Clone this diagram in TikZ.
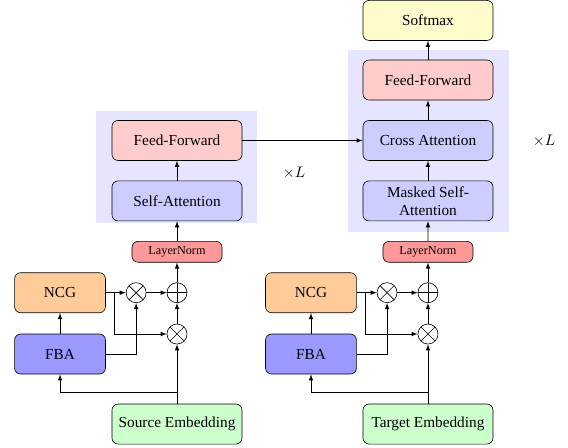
\documentclass[tikz,border=0pt]{standalone}
\usepackage{amsmath, amssymb}
\usepackage{fontspec}
\setmainfont{Liberation Serif}
\usepackage{tikz}

\begin{document}
\begin{tikzpicture}[>=latex,
    box/.style={draw, rounded corners=4pt, minimum width=2.99cm, minimum height=0.92cm, inner sep=1pt, align=center},
    smallbox/.style={box, minimum width=2.09cm},
    normbox/.style={box, minimum width=2.07cm, minimum height=0.48cm, font=\footnotesize},
    op/.style={circle, draw, minimum size=0.46cm, inner sep=0pt},
    mulop/.style={op, path picture={\draw (path picture bounding box.north west) -- (path picture bounding box.south east)
        (path picture bounding box.north east) -- (path picture bounding box.south west);}},
    addop/.style={op, path picture={\draw (path picture bounding box.north) -- (path picture bounding box.south)
        (path picture bounding box.west) -- (path picture bounding box.east);}},
    blockbg/.style={fill=blue!10}]
    \useasboundingbox (0, 0) rectangle (13.06, 10.30);

    % Gated input path, same for encoder and decoder
    \foreach \k/\dx/\txt in {enc/0/Source Embedding, dec/5.77/Target Embedding} {
        \begin{scope}[xshift=\dx cm]
            \node[box, fill=green!20] (\k-emb) at (4.07, 0.55) {\txt};
            \node[smallbox, fill=blue!40] (\k-fba) at (1.38, 2.16) {FBA};
            \node[smallbox, fill=orange!40] (\k-ncg) at (1.38, 3.57) {NCG};
            \node[mulop] (\k-mulA) at (3.13, 3.57) {};
            \node[addop] (\k-add) at (4.07, 3.57) {};
            \node[mulop] (\k-mulB) at (4.07, 2.62) {};
            \node[normbox, fill=red!40] (\k-ln) at (4.07, 4.51) {LayerNorm};
            \coordinate (\k-split) at (4.07, 1.27);
            \coordinate (\k-tap) at (2.62, 3.57);

            \draw[->] (\k-emb) -- (\k-mulB);
            \draw[->] (\k-split) -| (\k-fba);
            \draw[->] (\k-fba) -- (\k-ncg);
            \draw[->] (\k-ncg) -- (\k-mulA);
            \draw[->] (\k-fba) -| (\k-mulA);
            \draw[->] (\k-tap) |- (\k-mulB);
            \draw[->] (\k-mulA) -- (\k-add);
            \draw[->] (\k-mulB) -- (\k-add);
            \draw[->] (\k-add) -- (\k-ln);
        \end{scope}
    }

    % Encoder block
    \fill[blockbg] (2.21, 5.17) rectangle (5.91, 7.75);
    \node[box, fill=blue!20] (sa) at (4.07, 5.68) {Self-Attention};
    \node[box, fill=red!20] (ff) at (4.07, 7.07) {Feed-Forward};
    \node (encrep) at (6.76, 6.33) {$\times L$};
    \draw[->] (enc-ln) -- (sa);
    \draw[->] (sa) -- (ff);

    % Decoder block
    \fill[blockbg] (8.00, 4.97) rectangle (11.71, 9.15);
    \node[box, fill=blue!20] (msa) at (9.84, 5.68) {Masked Self-\\Attention};
    \node[box, fill=blue!20] (ca) at (9.84, 7.07) {Cross Attention};
    \node[box, fill=red!20] (dff) at (9.84, 8.46) {Feed-Forward};
    \node[box, fill=yellow!20] (softmax) at (9.84, 9.83) {Softmax};
    \node (decrep) at (12.51, 7.06) {$\times L$};
    \draw[->] (dec-ln) -- (msa);
    \draw[->] (msa) -- (ca);
    \draw[->] (ca) -- (dff);
    \draw[->] (dff) -- (softmax);
    \draw[->] (ff) -- (ca);
\end{tikzpicture}
\end{document}
